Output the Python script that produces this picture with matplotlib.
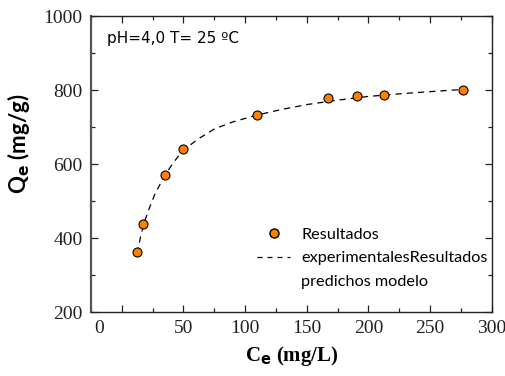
import matplotlib
matplotlib.use("Agg")
import matplotlib.pyplot as plt
import matplotlib.transforms as mtransforms
from matplotlib.lines import Line2D
from matplotlib.ticker import MultipleLocator

ce_exp = [12.7, 17.6, 34.9, 49.7, 109.7, 167.0, 190.6, 212.5, 276.6]
qe_exp = [363, 437, 570, 640, 732, 778, 784, 786, 800]

# model curve
ce_model = [12.7, 15, 18, 22, 27, 35, 42, 50, 62, 75, 90, 110, 130, 150, 175, 200, 225, 250, 277]
qe_model = [358, 400, 440, 478, 520, 570, 605, 638, 668, 695, 714, 733, 748, 761, 773, 783, 790, 796, 802]

xticks = [0, 50, 100, 150, 200, 250, 300]
yticks = [200, 400, 600, 800, 1000]

serif = ["Liberation Serif", "DejaVu Serif"]
sans = ["Lato", "DejaVu Sans"]

fig = plt.figure(figsize=(5.05, 3.76), dpi=100)
ax = fig.add_axes([0.180, 0.170, 0.794, 0.787])

ax.plot(ce_model, qe_model, linestyle=(0, (5, 4)), color="black", linewidth=0.9, zorder=2)
ax.scatter(ce_exp, qe_exp, s=42, color="#ff7f00", edgecolors="black", linewidths=0.8, zorder=3)

ax.set_xlim(-25, 300)
ax.set_ylim(200, 1000)
ax.set_xticks(xticks)
ax.set_yticks(yticks)
ax.xaxis.set_minor_locator(MultipleLocator(25))
ax.yaxis.set_minor_locator(MultipleLocator(100))
ax.tick_params(which="both", direction="in", top=True, right=True, colors="#222222")
ax.tick_params(which="major", length=5, width=0.9, labelsize=14, pad=6)
ax.tick_params(which="minor", length=3, width=0.9)
for lab in ax.get_xticklabels() + ax.get_yticklabels():
    lab.set_fontfamily(serif)
for sp in ax.spines.values():
    sp.set_linewidth(1.0)
    sp.set_color("#222222")
ax.spines["left"].set_linewidth(1.6)
ax.spines["left"].set_color("#555555")

# the "0" label sits left of its tick in the original
zero = ax.get_xticklabels()[0]
zero.set_transform(zero.get_transform() + mtransforms.ScaledTranslation(-0.23, 0, fig.dpi_scale_trans))

ax.set_xlabel(r"C$_\mathbf{e}$ (mg/L)", family=serif, fontsize=15, fontweight="bold", labelpad=5)
ax.set_ylabel(r"Q$_{\mathbf{e}}$ (mg/g)", family=sans, fontsize=16, fontweight="bold")
ax.yaxis.set_label_coords(-0.147, 0.57)

ax.text(0.04, 0.925, "pH=4,0 T= 25 ºC", transform=ax.transAxes, family="DejaVu Sans", fontsize=11, va="center")

handles = [
    Line2D([], [], marker="o", linestyle="none", markerfacecolor="#ff7f00", markeredgecolor="black", markersize=6.5),
    Line2D([], [], linestyle=(0, (4, 4)), color="black", linewidth=0.9),
    Line2D([], [], linestyle="none"),
]
labels = ["Resultados", "experimentalesResultados", "predichos modelo"]
ax.legend(handles, labels, loc="upper left", bbox_to_anchor=(0.395, 0.313), frameon=False,
          prop={"family": sans, "size": 11.7}, handlelength=2.0, handletextpad=0.7,
          labelspacing=0.55, borderpad=0)

fig.savefig("out.png", dpi=100)
